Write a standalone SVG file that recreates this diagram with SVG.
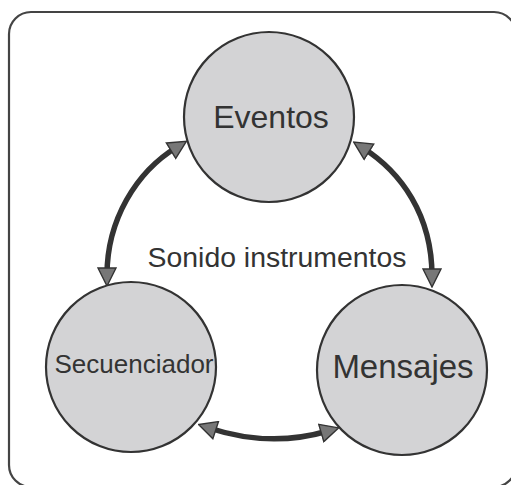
<svg xmlns="http://www.w3.org/2000/svg" width="511" height="485" viewBox="0 0 511 485">
<style>
.frame{fill:#ffffff;stroke:#444444;stroke-width:2.2}
.node{fill:#d3d3d5;stroke:#333333;stroke-width:2.2}
.lbl{font-family:"Liberation Sans",Arial,sans-serif;fill:#333333;text-anchor:middle}
.conn{fill:none;stroke:#333333;stroke-width:5.5}
</style>
<defs>
<marker id="ah" markerUnits="userSpaceOnUse" viewBox="0 0 20 20" markerWidth="20" markerHeight="20" refX="8" refY="10" orient="auto-start-reverse">
<path d="M1,1 L19,10 L1,19 Z" fill="#777777" stroke="#333333" stroke-width="1.4" stroke-linejoin="miter"/>
</marker>
</defs>
<rect class="frame" x="9" y="12" width="507" height="475" rx="22" ry="22"/>
<g id="connectors">
<path class="conn" d="M107,275 C107,220 136,172 177,147" marker-start="url(#ah)" marker-end="url(#ah)"/>
<path class="conn" d="M363,148 C401,172 432,215 432,276" marker-start="url(#ah)" marker-end="url(#ah)"/>
<path class="conn" d="M209,428 Q270,448 328,431" marker-start="url(#ah)" marker-end="url(#ah)"/>
</g>
<g id="eventos">
<circle class="node" cx="269" cy="117" r="85"/>
<text class="lbl" x="271" y="128" font-size="32">Eventos</text>
</g>
<g id="secuenciador">
<circle class="node" cx="131" cy="367" r="85"/>
<text class="lbl" x="134" y="373" font-size="26">Secuenciador</text>
</g>
<g id="mensajes">
<circle class="node" cx="402" cy="370" r="85"/>
<text class="lbl" x="403" y="378" font-size="33">Mensajes</text>
</g>
<g id="sonido">
<text class="lbl" x="277" y="267" font-size="28.4">Sonido instrumentos</text>
</g>
</svg>
